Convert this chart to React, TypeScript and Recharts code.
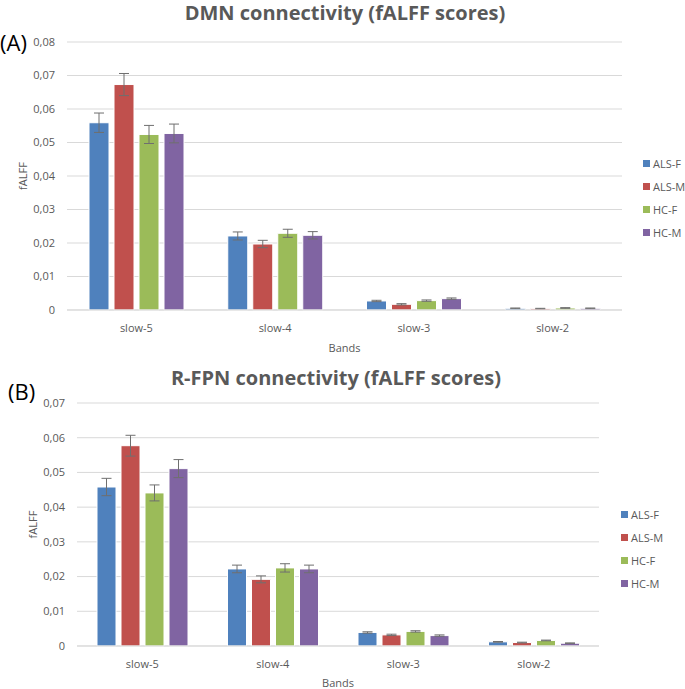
import { BarChart, Bar, XAxis, YAxis, CartesianGrid, Legend, ErrorBar } from 'recharts'

// Frequency bands and groups
const bands = ['slow-5', 'slow-4', 'slow-3', 'slow-2']
const groups = ['ALS-F', 'ALS-M', 'HC-F', 'HC-M']
const colors = ['#4f81bd', '#c0504d', '#9bbb59', '#8064a2']

// (A) DMN connectivity, mean fALFF per band
const dmnAlsF = [0.0559, 0.0221, 0.0027, 0.0005]
const dmnAlsM = [0.0673, 0.0197, 0.0017, 0.0004]
const dmnHcF = [0.0524, 0.0229, 0.0028, 0.0006]
const dmnHcM = [0.0527, 0.0223, 0.0034, 0.0005]
// (A) error (half bar)
const dmnAlsFErr = [0.0029, 0.0012, 0.0002, 0.0001]
const dmnAlsMErr = [0.0033, 0.0011, 0.0002, 0.0001]
const dmnHcFErr = [0.0027, 0.0012, 0.0002, 0.0001]
const dmnHcMErr = [0.0028, 0.0011, 0.0002, 0.0001]

// (B) R-FPN connectivity, mean fALFF per band
const fpnAlsF = [0.0458, 0.0222, 0.0039, 0.0012]
const fpnAlsM = [0.0577, 0.0192, 0.0032, 0.001]
const fpnHcF = [0.0441, 0.0225, 0.0042, 0.0016]
const fpnHcM = [0.0511, 0.0222, 0.003, 0.0008]
const fpnAlsFErr = [0.0025, 0.0011, 0.0002, 0.0001]
const fpnAlsMErr = [0.003, 0.001, 0.0002, 0.0001]
const fpnHcFErr = [0.0023, 0.0012, 0.0002, 0.0001]
const fpnHcMErr = [0.0026, 0.0011, 0.0002, 0.0001]

const dmnTicks = [0, 0.01, 0.02, 0.03, 0.04, 0.05, 0.06, 0.07, 0.08]
const fpnTicks = [0, 0.01, 0.02, 0.03, 0.04, 0.05, 0.06, 0.07]

const keys = ['alsF', 'alsM', 'hcF', 'hcM']

const buildRows = (means: number[][], errs: number[][]) =>
  bands.map((band, i) => {
    const row: Record<string, string | number> = { band }
    keys.forEach((k, j) => {
      row[k] = means[j][i]
      row[k + 'Err'] = errs[j][i]
    })
    return row
  })

const dmnData = buildRows(
  [dmnAlsF, dmnAlsM, dmnHcF, dmnHcM],
  [dmnAlsFErr, dmnAlsMErr, dmnHcFErr, dmnHcMErr]
)
const fpnData = buildRows(
  [fpnAlsF, fpnAlsM, fpnHcF, fpnHcM],
  [fpnAlsFErr, fpnAlsMErr, fpnHcFErr, fpnHcMErr]
)

const FONT = '"Open Sans", sans-serif'
const GRAY = '#595959'

const formatTick = (v: number) => (v === 0 ? '0' : v.toFixed(2).replace('.', ','))

const LegendBox = ({ payload }: any) => (
  <div>
    {(payload || []).map((p: any) => (
      <div
        key={p.value}
        style={{ display: 'flex', alignItems: 'center', height: 23, fontSize: 11, color: GRAY, fontFamily: FONT }}
      >
        <span style={{ width: 7, height: 7, background: p.color, marginRight: 3, display: 'inline-block' }} />
        {p.value}
      </div>
    ))}
  </div>
)

interface PanelProps {
  data: Record<string, string | number>[]
  ticks: number[]
  width: number
  height: number
  margin: { top: number; right: number; bottom: number; left: number }
  yWidth: number
  xHeight: number
  barSize: number
  labelOffset: number
  bandsOffset: number
  legendPos: { left: number; top: number }
}

function Panel({ data, ticks, width, height, margin, yWidth, xHeight, barSize, labelOffset, bandsOffset, legendPos }: PanelProps) {
  return (
    <BarChart width={width} height={height} data={data} margin={margin} barGap={5} barSize={barSize}>
      <CartesianGrid vertical={false} stroke="#d9d9d9" />
      <XAxis
        dataKey="band"
        height={xHeight}
        tickLine={false}
        tickSize={0}
        tickMargin={14}
        axisLine={{ stroke: '#d9d9d9' }}
        tick={{ fill: GRAY, fontSize: 11, fontFamily: FONT }}
        label={{ value: 'Bands', position: 'insideBottom', offset: bandsOffset, fill: GRAY, fontSize: 11, fontFamily: FONT }}
      />
      <YAxis
        width={yWidth}
        domain={[ticks[0], ticks[ticks.length - 1]]}
        ticks={ticks}
        interval={0}
        tickFormatter={formatTick}
        axisLine={false}
        tickLine={false}
        tickSize={0}
        tickMargin={12}
        tick={{ fill: GRAY, fontSize: 11, fontFamily: FONT }}
        label={{
          value: 'fALFF',
          angle: -90,
          position: 'insideLeft',
          offset: labelOffset,
          fill: GRAY,
          fontSize: 11,
          fontFamily: FONT,
          style: { textAnchor: 'middle' },
        }}
      />
      <Legend
        layout="vertical"
        verticalAlign="top"
        align="right"
        content={<LegendBox />}
        wrapperStyle={{ position: 'absolute', left: legendPos.left, top: legendPos.top, width: 60 }}
      />
      {keys.map((k, i) => (
        <Bar key={k} dataKey={k} name={groups[i]} fill={colors[i]} stroke="#ffffff" strokeWidth={1} isAnimationActive={false}>
          <ErrorBar dataKey={k + 'Err'} width={5} stroke="#6f6f6f" strokeWidth={1} />
        </Bar>
      ))}
    </BarChart>
  )
}

export default function App() {
  return (
    <div style={{ position: 'absolute', left: 0, top: 0, width: 685, height: 689, background: '#fff', fontFamily: FONT }}>
      {/* (A) DMN */}
      <div style={{ position: 'absolute', left: 0, top: 0 }}>
        <Panel
          data={dmnData}
          ticks={dmnTicks}
          width={685}
          height={360}
          margin={{ top: 42, right: 3, bottom: 6, left: 0 }}
          yWidth={67}
          xHeight={44}
          barSize={20}
          labelOffset={23}
          bandsOffset={2}
          legendPos={{ left: 643, top: 152 }}
        />
      </div>
      <div style={{ position: 'absolute', left: 0, top: 0, width: 690, textAlign: 'center', fontSize: 20, fontWeight: 700, color: GRAY, lineHeight: '26px' }}>
        DMN connectivity (fALFF scores)
      </div>
      <div style={{ position: 'absolute', left: 0, top: 28, fontSize: 22, color: '#000', lineHeight: '28px' }}>(A)</div>

      {/* (B) R-FPN */}
      <div style={{ position: 'absolute', left: 0, top: 360 }}>
        <Panel
          data={fpnData}
          ticks={fpnTicks}
          width={685}
          height={329}
          margin={{ top: 43, right: 26, bottom: 1, left: 0 }}
          yWidth={77}
          xHeight={42}
          barSize={19}
          labelOffset={33}
          bandsOffset={1}
          legendPos={{ left: 621, top: 143 }}
        />
      </div>
      <div style={{ position: 'absolute', left: 0, top: 365, width: 672, textAlign: 'center', fontSize: 20, fontWeight: 700, color: GRAY, lineHeight: '26px' }}>
        R-FPN connectivity (fALFF scores)
      </div>
      <div style={{ position: 'absolute', left: 8, top: 377, fontSize: 22, color: '#000', lineHeight: '28px' }}>(B)</div>
    </div>
  )
}
